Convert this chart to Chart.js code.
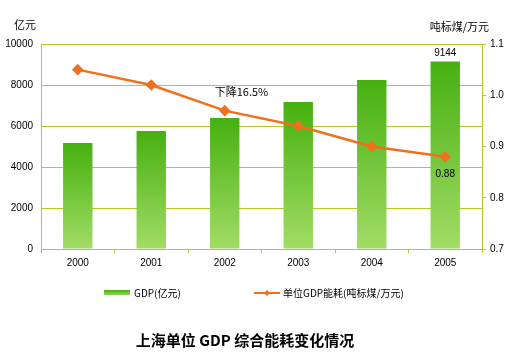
<!DOCTYPE html>
<html><head><meta charset="utf-8">
<script src="https://cdn.jsdelivr.net/npm/chart.js@4/dist/chart.umd.min.js"></script>
<style>html,body{margin:0;padding:0;background:#fff;}#wrap{width:509px;height:356px;position:relative;}</style>
</head><body><div id="wrap"><canvas id="c" width="509" height="356"></canvas></div>
<script>
const years = ['2000','2001','2002','2003','2004','2005'];
const gdp = [5170, 5760, 6390, 7170, 8240, 9144];
const energy = [1.05, 1.02, 0.97, 0.94, 0.90, 0.88];
const leftTicks = [0, 2000, 4000, 6000, 8000, 10000];
const rightTicks = [0.7, 0.8, 0.9, 1.0, 1.1];
const gdpLabel = 'GDP(亿元)';
const energyLabel = '单位GDP能耗(吨标煤/万元)';
const titleText = '上海单位 GDP 综合能耗变化情况';
const leftUnit = '亿元';
const rightUnit = '吨标煤/万元';
const dropNote = '下降16.5%';

const GRID = '#b4c828';
const ORANGE = '#f0701e';
const FONT = '"Liberation Sans", Arial, sans-serif';

function barGrad(ctx) {
  const chart = ctx.chart;
  if (!chart.chartArea || ctx.dataIndex === undefined) return '#6cc03c';
  const ys = chart.scales.y;
  const top = ys.getPixelForValue(gdp[ctx.dataIndex]);
  const bot = ys.getPixelForValue(0);
  const g = chart.ctx.createLinearGradient(0, top, 0, bot);
  g.addColorStop(0, '#46b010');
  g.addColorStop(1, '#a2dc66');
  return g;
}

const extras = {
  id: 'extras',
  afterDraw(chart) {
    const c = chart.ctx;
    const xs = chart.scales.x, ys = chart.scales.y, y1 = chart.scales.y1;
    c.save();
    c.fillStyle = '#000';
    c.textBaseline = 'middle';
    c.font = '11px "Noto Sans CJK SC", sans-serif';
    c.textAlign = 'left';
    c.fillText(leftUnit, 14, 25);
    c.textAlign = 'right';
    c.fillText(rightUnit, 489, 27);
    c.font = '10px ' + FONT;
    c.textAlign = 'center';
    const last = gdp.length - 1;
    c.fillText(String(gdp[last]), xs.getPixelForValue(last), ys.getPixelForValue(gdp[last]) - 8);
    c.fillText(energy[last].toFixed(2), xs.getPixelForValue(last), y1.getPixelForValue(energy[last]) + 17);
    c.font = '11px "Noto Sans CJK SC", sans-serif';
    c.textAlign = 'left';
    c.fillText(dropNote, xs.getPixelForValue(2) - 10, y1.getPixelForValue(energy[2]) - 19);
    const ly = 293;
    const g = c.createLinearGradient(0, ly - 3, 0, ly + 3);
    g.addColorStop(0, '#46b010'); g.addColorStop(1, '#a2dc66');
    c.fillStyle = g;
    c.fillRect(104, ly - 3, 26, 5);
    c.fillStyle = '#000';
    c.font = '10px "Noto Sans CJK SC", sans-serif';
    c.fillText(gdpLabel, 134, ly);
    c.strokeStyle = ORANGE; c.lineWidth = 2;
    c.beginPath(); c.moveTo(254, ly); c.lineTo(280, ly); c.stroke();
    c.fillStyle = ORANGE;
    c.beginPath(); c.moveTo(267, ly - 3); c.lineTo(270, ly); c.lineTo(267, ly + 3); c.lineTo(264, ly); c.closePath(); c.fill();
    c.fillStyle = '#000';
    c.fillText(energyLabel, 283, ly);
    c.font = 'bold 15px "Noto Sans CJK SC", sans-serif';
    c.textAlign = 'center';
    c.fillText(titleText, 245, 340);
    c.restore();
  }
};

new Chart(document.getElementById('c'), {
  data: {
    labels: years,
    datasets: [
      { type: 'line', label: energyLabel, data: energy, yAxisID: 'y1',
        borderColor: ORANGE, backgroundColor: ORANGE, borderWidth: 2.5,
        pointStyle: 'rectRot', pointRadius: 4, pointHoverRadius: 4, tension: 0, order: 0 },
      { type: 'bar', label: gdpLabel, data: gdp, yAxisID: 'y',
        backgroundColor: barGrad, categoryPercentage: 1, barPercentage: 0.4, order: 1 }
    ]
  },
  options: {
    responsive: false, animation: false,
    layout: { padding: { top: 44, left: 0, right: 0, bottom: 0 } },
    plugins: { legend: { display: false }, title: { display: false }, tooltip: { enabled: false } },
    scales: {
      x: {
        offset: true,
        grid: { drawOnChartArea: false, drawTicks: true, tickLength: 4, color: GRID, offset: true },
        border: { color: GRID, width: 1 },
        ticks: { color: '#000', font: { family: FONT, size: 10 }, padding: 4, maxRotation: 0 },
        afterFit(s) { s.height = 107; }
      },
      y: {
        position: 'left', min: 0, max: 10000,
        afterBuildTicks(s) { s.ticks = leftTicks.map(v => ({ value: v })); },
        grid: { color: GRID, drawTicks: false, lineWidth: 1 },
        border: { color: GRID, width: 1 },
        ticks: { color: '#000', font: { family: FONT, size: 10 }, padding: 8, callback: v => String(v) },
        afterFit(s) { s.width = 41; }
      },
      y1: {
        position: 'right', min: 0.7, max: 1.1,
        afterBuildTicks(s) { s.ticks = rightTicks.map(v => ({ value: v })); },
        grid: { drawOnChartArea: false, drawTicks: true, tickLength: 4, color: GRID },
        border: { color: GRID, width: 1 },
        ticks: { color: '#000', font: { family: FONT, size: 10 }, padding: 4, callback: v => Number(v).toFixed(1) },
        afterFit(s) { s.width = 27; }
      }
    }
  },
  plugins: [extras]
});
</script></body></html>
